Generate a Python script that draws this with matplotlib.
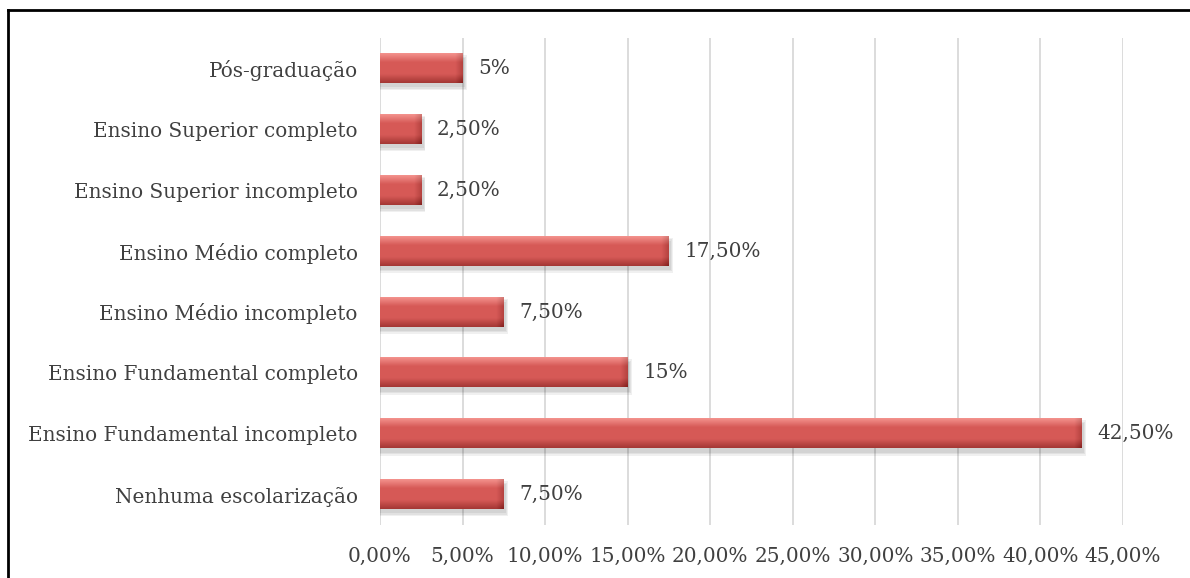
import numpy as np
import matplotlib
matplotlib.use("Agg")
import matplotlib.pyplot as plt
from matplotlib.patches import Rectangle
from matplotlib.lines import Line2D

categories = ["Nenhuma escolarização", "Ensino Fundamental incompleto",
              "Ensino Fundamental completo", "Ensino Médio incompleto",
              "Ensino Médio completo", "Ensino Superior incompleto",
              "Ensino Superior completo", "Pós-graduação"]
values = [7.5, 42.5, 15.0, 7.5, 17.5, 2.5, 2.5, 5.0]
value_labels = ["7,50%", "42,50%", "15%", "7,50%", "17,50%", "2,50%", "2,50%", "5%"]
xticks = [0, 5, 10, 15, 20, 25, 30, 35, 40, 45]
xtick_labels = ["0,00%", "5,00%", "10,00%", "15,00%", "20,00%", "25,00%",
                "30,00%", "35,00%", "40,00%", "45,00%"]

plt.rcParams['font.family'] = ['DejaVu Serif']
txt_color = "#404040"
fs = 14.4

fig = plt.figure(figsize=(11.9, 5.78), dpi=100)
ax = fig.add_axes([380/1190, 1-525/578, (1123-380)/1190, (525-38)/578])

ax.set_xlim(0, 45)
ax.set_ylim(-0.5, len(categories) - 0.5)

bh = 0.48
base = np.array([0.84, 0.35, 0.34])
light = np.array([0.97, 0.60, 0.58])
dark = np.array([0.62, 0.20, 0.19])

for i, v in enumerate(values):
    for k, a in enumerate([0.06, 0.06, 0.06]):
        g = 0.05 * k
        ax.add_patch(Rectangle((0.0, i - bh/2 - 0.07 - g/2), v + 0.15 + g, bh + g,
                               facecolor="#000000", alpha=a, edgecolor="none",
                               zorder=2))
    H, W = 60, max(int(v * 40), 20)
    yy = np.linspace(0, 1, H)[:, None]
    xx = np.linspace(0, v, W)[None, :]
    prof = np.where(yy < 0.3, 1 - yy / 0.3, 0.0)
    dprof = np.where(yy > 0.7, (yy - 0.7) / 0.3, 0.0)
    img = base[None, None, :] * np.ones((H, W, 1))
    img = img + (light - base)[None, None, :] * (prof[..., None] * 0.9)
    img = img + (dark - base)[None, None, :] * (dprof[..., None] * 0.9)
    bevel = 0.45
    redge = np.clip((xx - (v - bevel)) / bevel, 0, 1)
    img = img + (dark - base)[None, None, :] * (redge[..., None] * 0.6)
    img = np.clip(img, 0, 1)
    ax.imshow(img, extent=(0, v, i - bh/2, i + bh/2), origin="upper",
              aspect="auto", zorder=3, interpolation="bilinear")
    ax.text(v + 0.95, i, value_labels[i], va="center", ha="left",
            fontsize=fs, color=txt_color, zorder=4)

ax.set_xlim(0, 45)
ax.set_ylim(-0.5, len(categories) - 0.5)
ax.set_aspect("auto")

ax.set_xticks(xticks)
ax.set_xticklabels(xtick_labels, fontsize=fs, color=txt_color)
ax.set_yticks(range(len(categories)))
ax.set_yticklabels(categories, fontsize=fs, color=txt_color)
ax.tick_params(length=0)
ax.tick_params(axis="x", pad=16)
ax.tick_params(axis="y", pad=16)
ax.grid(axis="x", color="#D9D9D9", linewidth=1.3, zorder=0)
ax.set_axisbelow(True)
for s in ax.spines.values():
    s.set_visible(False)

fig.add_artist(Line2D([8/1190, 1], [1-10/578, 1-10/578], transform=fig.transFigure,
                      color="black", linewidth=2))
fig.add_artist(Line2D([8/1190, 8/1190], [0, 1-10/578], transform=fig.transFigure,
                      color="black", linewidth=2))

fig.savefig("out.png", dpi=100)
